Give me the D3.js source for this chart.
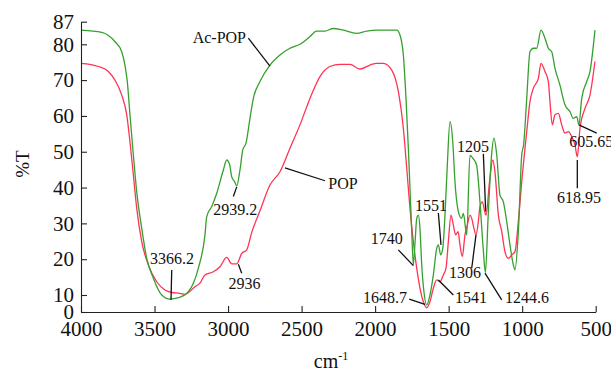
<!DOCTYPE html>
<html><head><meta charset="utf-8">
<script src="https://cdn.jsdelivr.net/npm/d3@7"></script>
<style>
html,body{margin:0;padding:0;background:#fff;}
svg text{font-family:"Liberation Serif","Times New Roman",serif;fill:#111;}
</style></head>
<body><svg id="c" width="611" height="371"></svg>
<script>
// ---- data ----
const acWave = [4000,3859,3769,3723,3701,3685,3667,3644,3621,3587,3553,3508,3451,3395,3338,3270,3202,3157,3145,3111,3077,3032,3009,2990,2975,2955,2941,2919,2900,2878,2851,2828,2783,2715,2647,2579,2511,2443,2398,2341,2284,2216,2125,2057,1989,1900,1853,1831,1808,1790,1774,1763,1751,1740,1728,1717,1706,1695,1683,1668,1649,1627,1604,1581,1570,1554,1540,1525,1509,1491,1472,1457,1434,1412,1400,1377,1355,1332,1310,1287,1265,1250,1231,1208,1192,1173,1151,1128,1105,1083,1060,1049,1026,1003,990,969,947,924,901,872,845,822,799,777,743,709,675,652,629,614,595,561,539,505];
const acT = [84.4,83.7,80.8,77.9,74.1,69.5,60.3,49.1,38.8,28.6,20.2,14.7,10,7.6,8.4,10.9,17.5,26.8,31.9,34.7,38.4,44.9,47.7,46.5,43,41.6,40.5,44.9,50.5,52.4,59.3,64.9,69.6,74.2,77,78.9,80,82.4,84.1,84.1,84.9,84.4,83.4,84.1,84.4,84.4,84.4,82.9,77,64.9,51,39.8,27.7,18.4,25,31.4,32.3,28.6,18.4,10.9,4.1,10,15.6,23,24,21.2,23,32.3,46.3,58.4,52.8,41.6,33.3,31.4,32.8,26.8,49,48,46.3,36,23,16.3,32.3,49.1,53.8,49.1,37.9,36,30.5,24,18.4,17,27.7,49.1,52,64.9,77.9,78.9,78.9,84.4,81.9,78.9,77.9,73.3,68.6,63.1,61.2,59.3,59.8,57.5,64.9,69.6,72.4,84.4];

const popWave = [4000,3882,3814,3769,3723,3689,3667,3644,3621,3587,3542,3485,3429,3383,3338,3293,3225,3191,3157,3100,3055,3009,2975,2941,2907,2873,2839,2783,2715,2647,2579,2511,2443,2375,2307,2239,2171,2103,2035,1989,1944,1887,1842,1808,1785,1763,1740,1717,1695,1672,1649,1627,1604,1581,1559,1536,1518,1502,1484,1468,1452,1436,1423,1407,1389,1373,1355,1343,1328,1314,1298,1287,1271,1253,1246,1222,1200,1185,1162,1139,1117,1094,1071,1049,1026,1003,969,947,924,890,872,845,822,811,795,777,754,731,709,686,663,641,625,607,573,539,505];
const popT = [74.7,73.8,72.4,70,65.8,60.3,52.8,43.5,34.2,24.9,18.4,13.7,11.4,10.7,10.5,10.2,12.3,13.3,15.6,16.5,17.9,20.5,18.7,18.7,21.6,22.6,27.5,33.5,40.7,44.4,51,57.5,64.9,71,73.8,74.4,74.4,73.1,74.2,74.7,74.7,72.8,66.8,56.5,45.4,34.2,24.9,17.5,11.9,6,2.5,6,11.9,14.2,13.7,15.6,17.5,24.9,32.3,29.5,26.8,27.7,24,20.7,26.8,29.5,32.3,31.4,28.6,26.8,30.5,34.7,36,33,32.3,41.6,47.7,44.4,32.3,27.7,22.1,20.2,21.2,22.1,30.5,41.6,55.6,64,67.7,70.5,74.7,72.4,69.6,64,57.5,60.3,60.7,57.5,55.2,55.6,54.2,51.9,48.6,56.5,62.1,65.8,75.2];

const xTicks = [4000,3500,3000,2500,2000,1500,1000,500];
const yTicks = [0,10,20,30,40,50,60,70,80,87];

// annotations: text, leader line from (w1,t1) to (w2,t2), text at (tw,tt), anchor
const annText   = ["Ac-POP","POP","2939.2","2936","3366.2","1740","1551","1648.7","1541","1306","1205","1244.6","605.65","618.95"];
const annLine   = [[2862,81.9,2715,73.9],[2613,45.5,2341,41.9],[2941,40.2,2964,37.5],[2930,18.6,2907,16.1],[3383,17,3388,7.1],[1842,22.6,1740,18.2],[1570,32.9,1552,24],[1768,7.6,1661,4.5],[1570,14.2,1468,10],[1314,26.8,1343,17.5],[1264,49.4,1248,33.3],[1253,16.1,1139,7.1],[614,57.5,493,55.2],[625,47.7,625,39.8]];
const annPos    = [[2878,80.4],[2318,39.6],[2951,32.3],[2888,11.7],[3381,18.6],[1812,24.2],[1620,33.4],[1783,5.3],[1457,5.1],[1389,14.7],[1334,49.9],[1117,5.1],[680,51.4],[614,35.6]];
const annAnchor = ["end","start","middle","middle","middle","end","middle","end","start","middle","middle","start","start","middle"];

// ---- chart ----
const svg = d3.select("#c");
const x = d3.scaleLinear().domain([4000,500]).range([81,595.7]);
const y = d3.scaleLinear().domain([0,10,80,87]).range([312,295,44.3,21.7]);

const line = d3.line().x(d=>x(d[0])).y(d=>y(d[1])).curve(d3.curveMonotoneX);
const ac = acWave.map((w,i)=>[w,acT[i]]);
const pop = popWave.map((w,i)=>[w,popT[i]]);

svg.append("path").datum(pop).attr("d",line).attr("fill","none")
  .attr("stroke","#ff3355").attr("stroke-width",1.3);
svg.append("path").datum(ac).attr("d",line).attr("fill","none")
  .attr("stroke","#36a02e").attr("stroke-width",1.3);

const xa = svg.append("g").attr("transform","translate(0,312)")
  .call(d3.axisBottom(x).tickValues(xTicks).tickFormat(d3.format("d")).tickSizeInner(-6).tickSizeOuter(0).tickPadding(9));
const ya = svg.append("g").attr("transform","translate(81,0)")
  .call(d3.axisLeft(y).tickValues(yTicks).tickFormat(d3.format("d")).tickSizeInner(-6).tickSizeOuter(0).tickPadding(7));
[xa,ya].forEach(g=>{
  g.selectAll("path,line").attr("stroke","#222").attr("stroke-width",1.1);
  g.selectAll("text").attr("font-family","Liberation Serif").attr("font-size",21).attr("fill","#111");
});

svg.append("text").attr("transform","translate(29,164) rotate(-90)")
  .attr("text-anchor","middle").attr("font-size",19).text("%T");
const xl = svg.append("text").attr("x",331).attr("y",368).attr("text-anchor","middle").attr("font-size",20);
xl.append("tspan").text("cm");
xl.append("tspan").attr("dy",-8).attr("font-size",12).text("-1");

annText.forEach((t,i)=>{
  const L = annLine[i];
  svg.append("line").attr("x1",x(L[0])).attr("y1",y(L[1])).attr("x2",x(L[2])).attr("y2",y(L[3]))
    .attr("stroke","#111").attr("stroke-width",1.3);
  svg.append("text").attr("x",x(annPos[i][0])).attr("y",y(annPos[i][1]))
    .attr("text-anchor",annAnchor[i]).attr("font-size",16).text(t);
});
</script></body></html>
